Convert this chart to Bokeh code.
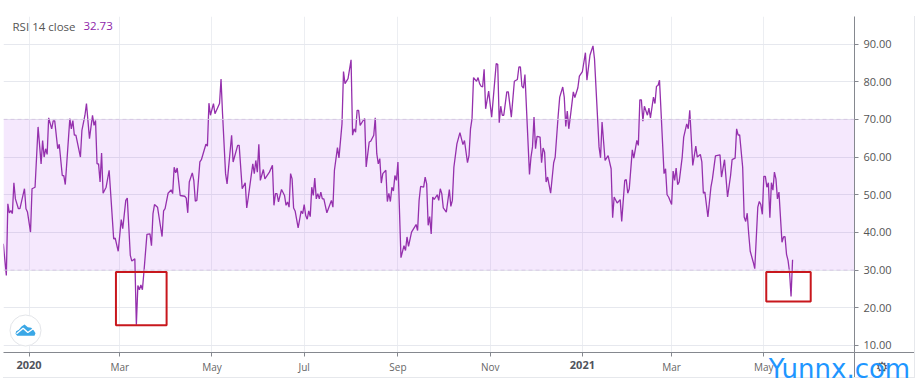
from bokeh.plotting import figure
from bokeh.models import Range1d, FixedTicker, NumeralTickFormatter, BoxAnnotation, Span, Label, LinearAxis
from bokeh.embed import file_html
from bokeh.resources import INLINE

# days since 2020-01-01 and RSI values
days = [-17,-15,-14,-13,-12,-11,-10,-9,-7,-6,-3,-2,-1,1,2,4,6,8,9,10,11,12,13,15,16,17,19,20,22,23,24,27,28,29,30,31,34,35,37,38,40,42,43,44,45,46,47,48,49,51,53,56,57,59,61,62,64,65,67,68,70,
71,72,73,74,75,76,78,80,81,82,83,85,86,88,89,90,92,94,95,96,97,98,100,103,104,105,106,108,109,110,111,113,114,117,118,119,120,122,123,126,127,128,130,131,134,135,138,139,141,143,144,145,148,149,150,151,152,153,155,156,159,161,162,163,164,165,167,169,170,171,172,173,174,175,176,178,180,
181,182,183,184,185,186,187,188,189,190,191,192,193,194,195,197,200,201,202,204,205,207,208,209,211,213,214,215,216,217,218,219,221,222,223,225,226,228,229,230,231,232,233,234,236,237,238,239,240,241,242,243,244,246,248,249,250,251,253,255,256,257,258,259,261,262,263,264,265,266,267,268,270,271,272,273,274,276,278,279,280,281,283,285,287,288,290,291,292,293,294,296,297,298,299,300,301,302,304,306,309,310,311,312,313,314,316,317,319,321,323,324,325,326,327,328,331,332,333,334,335,336,338,339,340,341,342,343,345,347,348,350,351,353,354,355,356,357,358,360,361,363,364,366,368,369,371,373,374,376,377,378,
379,381,383,385,386,387,389,391,392,394,395,396,397,399,400,402,403,404,405,406,407,409,410,411,413,414,415,416,417,420,421,422,423,425,426,427,428,429,430,432,433,435,436,437,439,441,442,444,445,446,447,449,451,452,454,457,458,460,462,464,465,467,468,469,470,472,473,474,475,476,477,479,480,482,483,484,485,486,487,488,489,490,491,492,493,494,495,496,498,499,500,501,502,503,504,505]
rsi = [37.0,28.6,47.6,45.2,45.8,45.0,53.2,48.9,46.3,46.3,51.6,46.3,45.4,40.1,51.6,52.0,68.0,58.2,64.4,60.0,62.2,60.7,70.4,67.5,69.6,69.6,62.2,63.4,55.1,55.1,52.7,70.2,67.5,69.7,65.8,65.8,60.0,67.1,71.1,74.2,64.9,71.1,68.4,69.7,58.2,58.2,53.4,61.1,50.4,52.0,56.5,38.3,38.5,35.0,43.4,41.0,48.5,49.1,33.9,32.4,33.0,
15.5,25.9,24.8,26.1,24.8,29.5,39.5,39.6,36.5,45.0,47.4,46.7,44.1,38.9,45.7,46.3,50.4,51.3,50.3,57.3,55.8,57.1,49.8,49.6,49.1,45.2,53.4,55.8,53.8,48.3,48.5,58.7,59.3,63.4,62.9,74.3,71.1,74.2,71.5,74.2,80.7,71.5,55.6,52.9,65.8,58.7,63.1,63.1,51.6,53.2,46.5,49.2,58.2,55.6,59.1,56.0,63.4,53.8,56.7,54.2,56.0,57.8,47.2,50.3,50.3,48.1,51.4,49.8,47.2,48.1,46.7,55.6,54.2,46.5,45.7,41.2,45.7,
45.0,47.4,44.5,43.5,45.7,44.2,52.0,49.8,54.4,48.9,50.3,48.9,50.7,48.9,48.9,45.2,48.5,46.7,56.5,62.5,59.8,68.8,82.7,79.5,80.8,85.8,65.8,67.5,66.6,72.4,72.4,68.4,69.7,70.2,57.4,64.0,64.2,65.8,70.4,60.9,58.2,59.6,53.1,55.6,56.5,48.2,50.4,48.2,52.0,51.0,55.1,53.8,58.7,33.3,36.5,35.2,38.8,36.3,40.1,41.4,42.1,40.5,48.5,52.2,52.0,54.7,52.9,41.9,44.2,39.6,49.4,48.8,50.0,48.5,51.6,50.3,46.5,45.4,51.4,46.9,48.5,57.3,63.5,66.5,63.3,64.4,58.5,60.4,67.5,70.2,81.1,80.1,81.1,79.5,78.8,78.6,83.3,72.8,77.5,70.6,84.8,84.6,69.1,73.5,71.1,71.1,77.3,77.3,70.6,80.1,80.6,83.9,83.9,78.8,78.3,81.9,55.4,60.0,62.7,70.6,62.2,65.5,65.3,58.5,62.4,61.3,53.4,54.7,50.4,58.5,60.0,71.1,75.9,78.6,75.9,68.1,72.2,67.5,70.6,77.3,75.8,78.4,81.5,82.7,87.7,80.4,87.0,89.5,86.1,70.6,62.7,59.8,
69.3,59.1,60.4,56.9,43.9,49.4,47.8,48.7,42.9,53.8,54.0,50.4,51.6,61.9,59.7,64.4,63.1,75.2,75.2,69.5,73.5,71.1,73.0,70.4,75.9,74.2,78.8,79.0,80.4,55.6,56.9,50.0,49.4,47.4,56.3,53.8,57.1,52.7,53.4,60.0,65.3,68.8,67.5,72.4,57.8,62.9,60.0,60.7,58.7,50.4,50.7,44.1,52.0,54.2,60.3,60.6,54.7,59.3,49.4,55.1,59.3,59.7,67.5,65.8,65.9,57.3,44.1,42.9,45.1,39.6,35.0,32.1,30.4,46.7,48.2,47.4,44.8,54.9,54.9,52.0,53.2,43.9,53.2,51.2,56.0,54.2,48.9,50.7,37.4,38.8,38.9,34.2,32.6,29.5,23.0,32.73]

tick_days = [0, 60, 121, 182, 244, 305, 366, 425, 486]
tick_labels = ["2020", "Mar", "May", "Jul", "Sep", "Nov", "2021", "Mar", "May"]
year_ticks = ["2020", "2021"]
price_ticks = [10, 20, 30, 40, 50, 60, 70, 80, 90]
band_low, band_high = 30, 70

# red highlight boxes (days / RSI)
box_left = [57.5, 487.6]
box_right = [91, 517]
box_top = [29.5, 29.5]
box_bottom = [15.4, 21.7]

FONT = "Open Sans"
AXIS = "#85888f"
BORDER = "#e6e8ec"

def bar(color, x, y, w, h):
    return f"linear-gradient({color},{color}) {x}px {y}px/{w}px {h}px no-repeat"

p = figure(width=916, height=386, output_backend="svg", toolbar_location=None,
           x_range=Range1d(-16.87, 545.96), y_range=Range1d(8.14, 97.3),
           y_axis_location="right", min_border_left=3, min_border_right=62,
           min_border_top=16, min_border_bottom=34, outline_line_color=None,
           tools="", background_fill_color="white", border_fill_color=None)
# axis extensions and outer borders, outside the plotting frame
p.styles = {"background": ", ".join([bar(AXIS, 854, 352, 60, 1), bar(AXIS, 854, 352, 1, 25),
                                     bar(BORDER, 3, 377, 912, 1), bar(BORDER, 914, 16, 1, 362)])}

# x axis
xa = p.xaxis[0]
xa.ticker = FixedTicker(ticks=tick_days)
xa.major_label_overrides = {d: ("" if t in year_ticks else t) for d, t in zip(tick_days, tick_labels)}
xa.major_label_text_font = FONT
xa.major_label_text_font_size = "10px"
xa.major_label_text_color = "#666666"
xa.major_label_standoff = 3
xa.major_tick_out = 4
xa.major_tick_in = 0
xa.minor_tick_line_color = None
xa.axis_line_color = AXIS
xa.major_tick_line_color = AXIS

def text_axis(ticks, labels, standoff, font, size, color, style="normal"):
    ax = LinearAxis(ticker=FixedTicker(ticks=ticks), major_label_overrides=dict(zip(ticks, labels)),
                    major_label_standoff=standoff, major_label_text_font=font,
                    major_label_text_font_size=size, major_label_text_color=color,
                    major_label_text_font_style=style, major_tick_line_color=None,
                    minor_tick_line_color=None, axis_line_color=None,
                    major_tick_out=0, major_tick_in=0)
    p.add_layout(ax, "below")

# bold year labels, settings glyph, watermark: stacked below the time axis and pulled back up
year_days = [d for d, t in zip(tick_days, tick_labels) if t in year_ticks]
text_axis(year_days, year_ticks, -16, FONT, "11px", "#50535c", "bold")
text_axis([545], ["\u00a0" * 13 + "\u2699"], -18, "DejaVu Sans", "14px", "#55585f")
text_axis([536], ["Yunnx.com"], -24, "DejaVu Sans", "26px", "#1e96ff")

# y axis
ya = p.yaxis[0]
ya.ticker = FixedTicker(ticks=price_ticks)
ya.formatter = NumeralTickFormatter(format="0.00")
ya.major_label_text_font = FONT
ya.major_label_text_font_size = "11px"
ya.major_label_text_color = "#555555"
ya.major_label_standoff = 5
ya.major_tick_out = 4
ya.major_tick_in = 0
ya.minor_tick_line_color = None
ya.axis_line_color = AXIS
ya.major_tick_line_color = AXIS

p.xgrid.grid_line_color = "#eceef2"
p.ygrid.grid_line_color = "#e6e8ee"

# overbought / oversold band
p.add_layout(BoxAnnotation(bottom=band_low, top=band_high, fill_color="#a030f0", fill_alpha=0.11,
                           line_color=None, level="underlay"))
for lvl in (band_low, band_high):
    p.add_layout(Span(location=lvl, dimension="width", line_color="#d6c8e4", line_dash="4 3", line_width=1))

p.line(days, rsi, line_color="#9530ad", line_width=1.3)

p.quad(left=box_left, right=box_right, top=box_top, bottom=box_bottom,
       fill_color=None, line_color="#c8171d", line_width=2)

# logo badge
def lx(X):
    return (X / 3 - 28.5) / 1.512
def ly(Y):
    return 10 + (345 - Y / 3) / 3.769
p.scatter([lx(75)], [ly(990)], size=31, fill_color="white", line_color="#e3e5e9", line_width=1)
cx = [45, 47, 55, 63, 72, 82, 92, 100, 105, 102, 50]
cy = [1000, 992, 988, 978, 972, 980, 982, 990, 998, 1006, 1006]
p.patch([lx(v) for v in cx], [ly(v) for v in cy], fill_color="#3aa7e6", line_color=None)
zx = [48, 68, 82, 99]
zy = [1000, 983, 996, 984]
p.line([lx(v) for v in zx], [ly(v) for v in zy], line_color="white", line_width=1.4)

# legend
p.add_layout(Label(x=-10.9, y=94.7, text="RSI 14 close", text_font=FONT, text_font_size="11.5px",
                   text_color="#555555", text_baseline="middle"))
p.add_layout(Label(x=36, y=94.7, text="32.73", text_font=FONT, text_font_size="11.5px",
                   text_color="#8e24aa", text_baseline="middle"))

open("out.html", "w").write(file_html(p, INLINE))
